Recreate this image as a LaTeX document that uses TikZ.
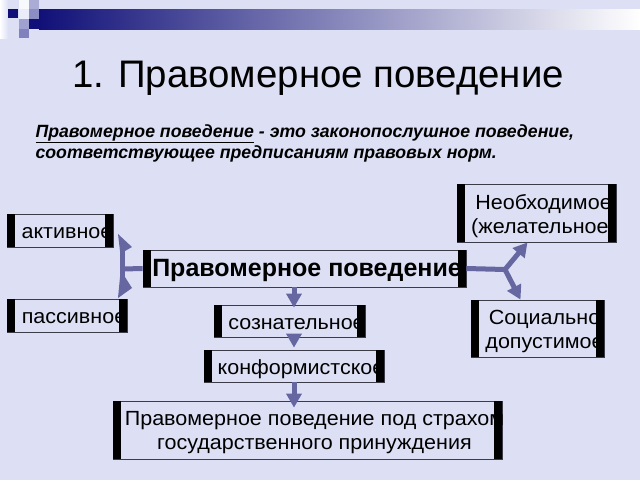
\documentclass[tikz,border=0pt]{standalone}
\usepackage{fontspec}
\setmainfont{Liberation Sans}
\newfontfamily\boxfont[FakeStretch=1.05]{Liberation Sans}
\usetikzlibrary{positioning,arrows.meta}

\definecolor{slidebg}{RGB}{221,224,245}
\definecolor{navy}{RGB}{16,16,120}
\definecolor{linkblue}{RGB}{102,102,160}
\definecolor{boxline}{RGB}{60,60,72}

\begin{document}
\begin{tikzpicture}[x=1pt,y=-1pt,
                box/.style={rectangle, draw=boxline, line width=0.8pt, inner sep=0pt},
                boxtext/.style={font=\boxfont\fontsize{20.5}{24}\selectfont, align=center, xshift=7pt, yshift=-3pt},
                oneline/.style={text height=14.7pt, text depth=4.3pt},
                maintext/.style={font=\bfseries\fontsize{25}{29}\selectfont, xshift=2.5pt, yshift=-2pt, text height=18pt, text depth=5.2pt},
                deftext/.style={font=\bfseries\itshape\fontsize{17.7}{21}\selectfont, anchor=base west},
                conn/.style={draw=linkblue, line width=5pt},
                headed/.style={-{Triangle[length=14pt,width=15pt]}}
            ]
            % slide background and header
            \fill[slidebg] (0,0) rectangle (640,480);
            \shade[left color=navy, right color=white] (39,9) rectangle (640,29);
            \shade[left color=white, right color=slidebg] (0,0) rectangle (8,38);
            \fill[navy] (8,9) rectangle (18,18);
            \fill[white!80!slidebg] (19,0) rectangle (29,9);
            \fill[navy!25!slidebg] (29,0) rectangle (39,9);
            \fill[white!40!slidebg] (19,9) rectangle (29,19);
            \fill[navy!40!slidebg] (29,9) rectangle (39,19);
            \fill[navy!30!slidebg] (19,19) rectangle (29,29);
            \fill[navy] (29,19) rectangle (39,29);
            \fill[navy!45!slidebg] (19,29) rectangle (29,38);

            \node[font=\fontsize{38.4}{44}\selectfont, anchor=base] (title) at (318,87) {1. Правомерное поведение};
            \node[deftext] (def1) at (32,137) {\underline{Правомерное поведение} - это законопослушное поведение,};
            \node[deftext] (def2) at (32,158) {соответствующее предписаниям правовых норм.};

            % boxes
            \node[box, minimum width=323, minimum height=37, label={[maintext, name=pravo-t]center:Правомерное поведение}] (pravo) at (304.5,268.5) {};
            \node[box, minimum width=106, minimum height=33, label={[boxtext, oneline, name=akt-t]center:активное}] (akt) at (60,230.5) {};
            \node[box, minimum width=120, minimum height=33, label={[boxtext, oneline, name=pas-t]center:пассивное}] (pas) at (67,315.5) {};
            \node[box, minimum width=159, minimum height=58, label={[boxtext, name=neob-t]center:{Необходимое\\(желательное)}}] (neob) at (536.5,213) {};
            \node[box, minimum width=133, minimum height=57, label={[boxtext, name=soc-t]center:{Социально\\допустимое}}] (soc) at (537.5,328.5) {};
            \node[box, minimum width=151, minimum height=32, label={[boxtext, oneline, name=soz-t]center:сознательное}] (soz) at (289.5,321) {};
            \node[box, minimum width=180, minimum height=32, label={[boxtext, oneline, name=konf-t]center:конформистское}] (konf) at (294,366) {};
            \node[box, minimum width=389, minimum height=58, label={[boxtext, name=strah-t]center:{Правомерное поведение под страхом\\государственного принуждения}}] (strah) at (307.5,430) {};

            \foreach \b in {pravo,akt,pas,neob,soc,soz,konf,strah} {
                \fill (\b.north west) rectangle ([xshift=8.5pt]\b.south west);
                \fill (\b.north east) rectangle ([xshift=-8.5pt]\b.south east);
            }

            % left fork
            \coordinate (lfork) at (122.5,269);
            \coordinate (ltop) at (122.5,246);
            \coordinate (lbot) at (122.5,282);
            \draw[conn] (pravo.west) -- (lfork);
            \draw[conn] (ltop) -- (lbot);
            \fill[linkblue] (118,234) -- (132,247) -- (125,251) -- (120,251) -- cycle;
            \fill[linkblue] (120,277) -- (125,277) -- (132,288) -- (118,298) -- cycle;

            % right fork
            \coordinate (rfork) at (505,269.5);
            \draw[conn, headed, line join=round] (pravo.east) -- (rfork) -- ([xshift=-9pt]neob.south);
            \draw[conn, headed] (rfork) -- ([xshift=-17pt]soc.north);

            % chain down the middle
            \draw[conn, headed, shorten >=-3pt] (pravo.south -| konf.north) -- (soz.north -| konf.north);
            \draw[conn, headed, shorten >=2pt] (soz.south -| konf.north) -- (konf.north);
            \draw[conn, headed, shorten >=-7pt] (konf.south) -- (strah.north -| konf.south);
\end{tikzpicture}
\end{document}
